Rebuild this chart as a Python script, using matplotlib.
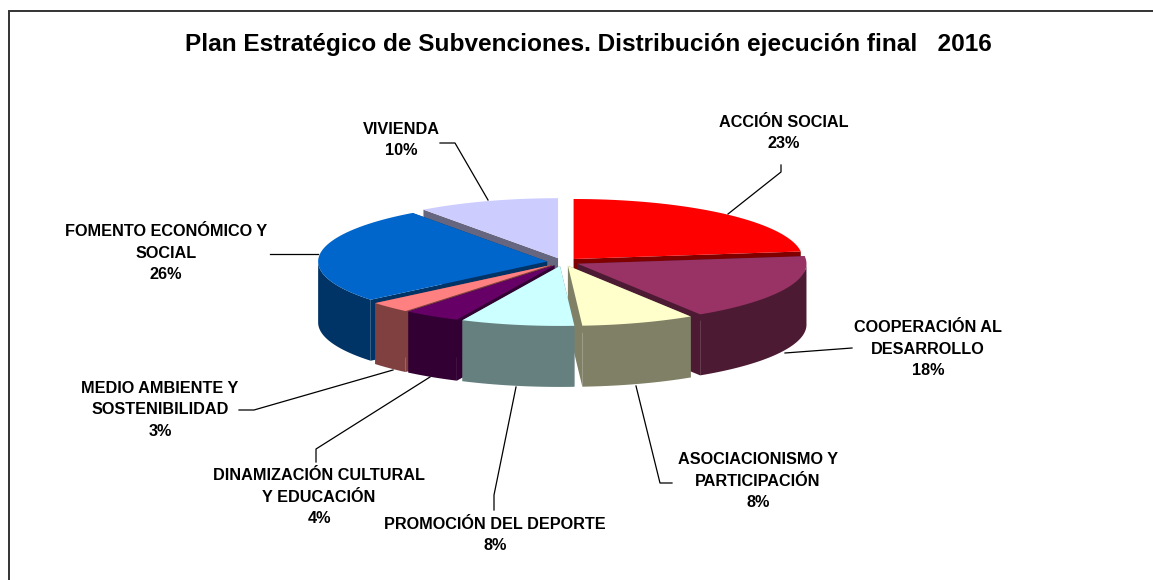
import matplotlib
matplotlib.use('Agg')
import matplotlib.pyplot as plt
import numpy as np

plt.rcParams['font.family'] = ['Liberation Sans', 'DejaVu Sans']

title = 'Plan Estratégico de Subvenciones. Distribución ejecución final   2016'
categories = ['ACCIÓN SOCIAL', 'COOPERACIÓN AL\nDESARROLLO', 'ASOCIACIONISMO Y\nPARTICIPACIÓN',
              'PROMOCIÓN DEL DEPORTE', 'DINAMIZACIÓN CULTURAL\nY EDUCACIÓN',
              'MEDIO AMBIENTE Y\nSOSTENIBILIDAD', 'FOMENTO ECONÓMICO Y\nSOCIAL', 'VIVIENDA']
values = [23, 18, 8, 8, 4, 3, 26, 10]
top_colors = ['#FF0000', '#993366', '#FFFFCC', '#CCFFFF', '#660066', '#FF8080', '#0066CC', '#CCCCFF']
wall_colors = ['#800000', '#4D1A33', '#808066', '#668080', '#330033', '#804040', '#003366', '#666680']

# pie geometry, in pixels
cx, cy = 563, 262
rx, ry = 229, 60
depth = 61
ex, ey = 16, 4

# back to front
draw_order = [7, 0, 6, 1, 5, 4, 2, 3]

# label centre, then leader line
label_pos = [(784, 133), (928, 349), (758, 481), (495, 535), (319, 497), (160, 410), (166, 253), (401, 140)]
leaders = [
    [(781, 165), (781, 172), (728, 214)],
    [(785, 353), (852, 348)],
    [(636, 386), (660, 483), (672, 483)],
    [(516, 387), (494, 495), (494, 510)],
    [(430, 377), (316, 449), (316, 462)],
    [(393, 370), (254, 410), (239, 410)],
    [(318, 254), (270, 254)],
    [(488, 200), (455, 143), (440, 143)],
]

fig = plt.figure(figsize=(11.53, 5.80), dpi=100)
ax = fig.add_axes([0, 0, 1, 1])
ax.set_xlim(0, 1153)
ax.set_ylim(580, 0)
ax.axis('off')

# chart border, runs off right and bottom
ax.plot([9, 9, 1153], [580, 11, 11], color='#333333', lw=1.4, solid_joinstyle='miter')

edges = np.concatenate([[0], np.cumsum(values)]) / sum(values) * 2 * np.pi

for i in draw_order:
    a0, a1 = edges[i], edges[i + 1]
    mid = (a0 + a1) / 2
    ox = cx + ex * np.sin(mid)
    oy = cy - ey * np.cos(mid)
    t = np.linspace(a0, a1, 80)
    xs = ox + rx * np.sin(t)
    ys = oy - ry * np.cos(t)
    # radial walls
    for k in (0, -1):
        ax.fill([ox, xs[k], xs[k], ox], [oy, ys[k], ys[k] + depth, oy + depth],
                color=wall_colors[i], lw=0)
    # outer wall, front half only
    front = np.cos(t) <= 0
    if front.any():
        ax.fill(np.r_[xs[front], xs[front][::-1]], np.r_[ys[front], ys[front][::-1] + depth],
                color=wall_colors[i], lw=0)
    ax.fill(np.r_[ox, xs], np.r_[oy, ys], color=top_colors[i], lw=0)

for line in leaders:
    pts = np.array(line)
    ax.plot(pts[:, 0], pts[:, 1], color='black', lw=0.9)

ax.text(588, 44, title, fontsize=17.6, fontweight='bold', ha='center', va='center')

for name, val, (lx, ly) in zip(categories, values, label_pos):
    ax.text(lx, ly, '%s\n%d%%' % (name, val), fontsize=11.7, fontweight='bold',
            ha='center', va='center', linespacing=1.55)

fig.savefig('out.png', dpi=100)
